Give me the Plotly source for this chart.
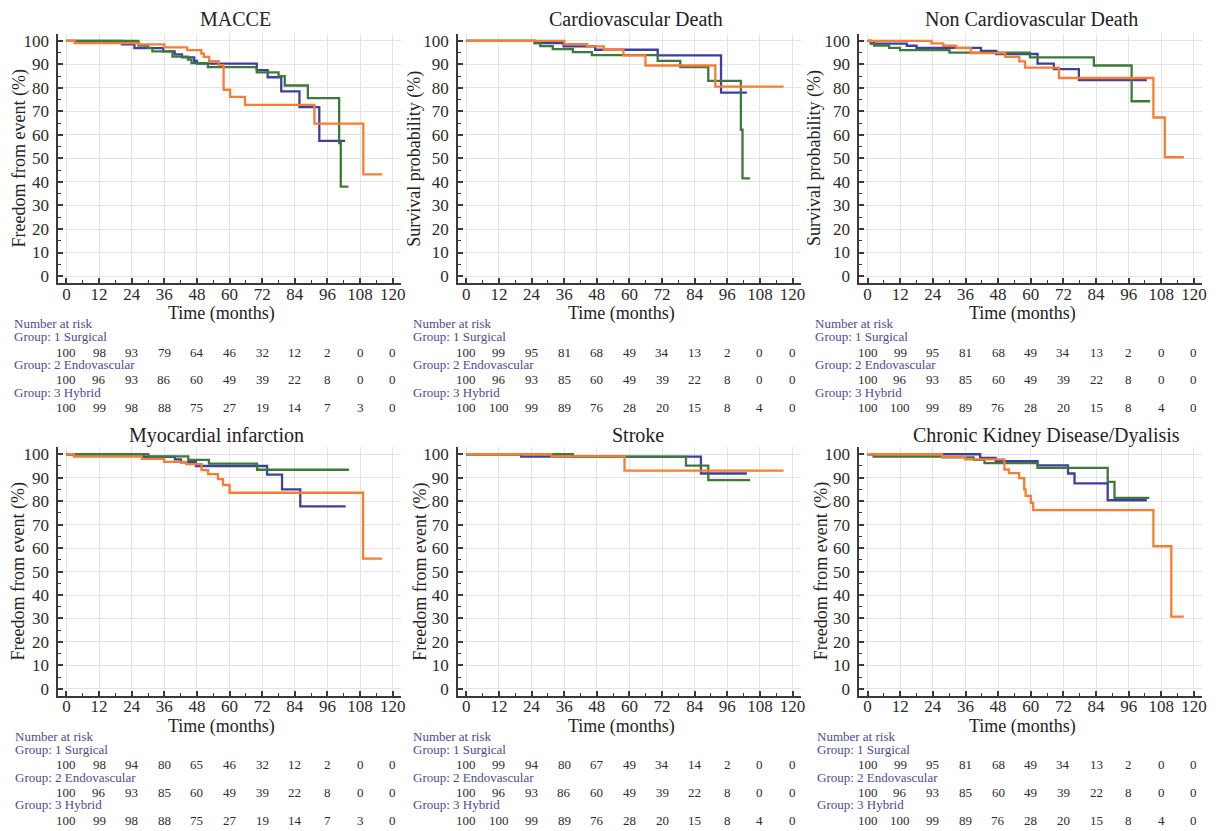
import plotly.graph_objects as go

W, H = 1217, 831
OFF = 8  # page body margin of the html page
FONT = "Liberation Serif"

# ---------------- DATA ----------------
titles = ["MACCE", "Cardiovascular Death", "Non Cardiovascular Death",
          "Myocardial infarction", "Stroke", "Chronic Kidney Disease/Dyalisis"]
ytitles = ["Freedom from event (%)", "Survival probability (%)", "Survival probability (%)",
           "Freedom from event (%)", "Freedom from event (%)", "Freedom from event (%)"]
group_names = ["1 Surgical", "2 Endovascular", "3 Hybrid"]
x_ticks = [0, 12, 24, 36, 48, 60, 72, 84, 96, 108, 120]
y_ticks = [0, 10, 20, 30, 40, 50, 60, 70, 80, 90, 100]

# MACCE
macce_surg_t = [0, 20.4, 25, 35.6, 39.8, 42.5, 47, 48, 70, 74, 79, 85.7, 93, 102.5]
macce_surg_s = [100, 98.5, 96.9, 95.5, 94.2, 93, 91.5, 90.3, 87.5, 84.5, 78.5, 71.8, 57.5, 57.5]
macce_endo_t = [0, 3, 26.7, 36, 44.4, 49.6, 50.5, 52.5, 56, 57.8, 60.2, 65.7, 91.2, 109.2, 116.1]
macce_endo_s = [100, 99, 98.5, 97.2, 96, 94.6, 93.2, 91.4, 89.7, 79.2, 76.2, 72.8, 64.8, 43.2, 43.2]
macce_hyb_t = [0, 26.5, 30, 31.6, 39, 44.7, 46, 52, 70, 78, 80.3, 88.8, 100.3, 100.9, 103.7]
macce_hyb_s = [100, 98, 97, 95.5, 93.3, 92, 90.5, 88.8, 86.6, 85, 81, 75.6, 56.5, 38, 38]

# Cardiovascular death
cvd_surg_t = [0, 25.1, 35.8, 47.4, 70.4, 93.7, 103.2]
cvd_surg_s = [100, 99, 97.6, 96.2, 93.8, 78, 78]
cvd_endo_t = [0, 36.1, 44.4, 50.6, 57.8, 65.9, 91.6, 116.7]
cvd_endo_s = [100, 98.6, 97.6, 96.2, 93.8, 89.5, 80.5, 80.5]
cvd_hyb_t = [0, 25.5, 27.2, 31.8, 39.2, 46.2, 70.4, 78.7, 89, 101, 101.6, 104.4]
cvd_hyb_s = [100, 99, 97.7, 96.5, 95.2, 93.9, 91.5, 88.8, 83, 62.2, 41.5, 41.5]

# Non cardiovascular death
ncvd_surg_t = [0, 1.2, 14.4, 18, 41.7, 47.3, 62.5, 68.5, 77.7, 102.7]
ncvd_surg_s = [100, 98.8, 97.9, 97, 95.7, 94.4, 90.3, 88, 83.3, 83.3]
ncvd_endo_t = [0, 23.5, 27.8, 32.6, 38, 50.6, 55.8, 57.9, 70.4, 105.1, 109.3, 116.3]
ncvd_endo_s = [100, 98.9, 97.9, 96.9, 94.8, 93.2, 91.3, 88.6, 84.2, 67.4, 50.5, 50.5]
ncvd_hyb_t = [0, 1.1, 2.4, 7.9, 11.9, 30.1, 59.7, 83.2, 97.1, 103.9]
ncvd_hyb_s = [100, 99.3, 98, 97, 96, 95, 93, 89.5, 74.3, 74.3]

# Myocardial infarction
mi_surg_t = [0, 28.5, 39.9, 42.1, 47.6, 73.8, 79.3, 86, 102.7]
mi_surg_s = [100, 98.9, 97.8, 96.6, 95, 91.3, 85, 77.8, 77.8]
mi_endo_t = [0, 2.7, 27.7, 35.9, 44.1, 49.7, 52.1, 55.7, 57.6, 60, 109.1, 116.1]
mi_endo_s = [100, 99, 98, 96.8, 95.8, 93.2, 91.5, 89.4, 86.9, 83.6, 55.5, 55.5]
mi_hyb_t = [0, 30.1, 44.8, 52.4, 70.1, 103.9]
mi_hyb_s = [100, 99.1, 97.6, 96, 93.4, 93.4]

# Stroke
stroke_surg_t = [0, 20.2, 86.3, 103.2]
stroke_surg_s = [100, 99, 91.8, 91.8]
stroke_endo_t = [0, 31.2, 58.2, 116.7]
stroke_endo_s = [100, 99.1, 93, 93]
stroke_hyb_t = [0, 39.2, 80.8, 89, 104.4]
stroke_hyb_s = [100, 98.9, 95.2, 89, 89]

# Chronic kidney disease / dialysis
ckd_surg_t = [0, 41.4, 47.1, 62.5, 73.7, 76.1, 88.3, 102.7]
ckd_surg_s = [100, 98.4, 97.1, 95.3, 91.8, 87.6, 80.4, 80.4]
ckd_endo_t = [0, 27.4, 35.9, 50.3, 52, 55.7, 57.6, 58.1, 60, 60.9, 105.1, 111.7, 116.3]
ckd_endo_s = [100, 98.9, 97.8, 93.5, 92, 89.8, 85, 82.3, 79.3, 76.2, 60.8, 30.8, 30.8]
ckd_hyb_t = [0, 2.2, 27.4, 39, 43, 62.5, 88.3, 90.8, 103.6]
ckd_hyb_s = [100, 99, 98.7, 97.6, 96.2, 94.2, 88.2, 81.4, 81.4]

# Number at risk tables
macce_risk_surg = [100, 98, 93, 79, 64, 46, 32, 12, 2, 0, 0]
macce_risk_endo = [100, 96, 93, 86, 60, 49, 39, 22, 8, 0, 0]
macce_risk_hyb = [100, 99, 98, 88, 75, 27, 19, 14, 7, 3, 0]
cvd_risk_surg = [100, 99, 95, 81, 68, 49, 34, 13, 2, 0, 0]
cvd_risk_endo = [100, 96, 93, 85, 60, 49, 39, 22, 8, 0, 0]
cvd_risk_hyb = [100, 100, 99, 89, 76, 28, 20, 15, 8, 4, 0]
ncvd_risk_surg = [100, 99, 95, 81, 68, 49, 34, 13, 2, 0, 0]
ncvd_risk_endo = [100, 96, 93, 85, 60, 49, 39, 22, 8, 0, 0]
ncvd_risk_hyb = [100, 100, 99, 89, 76, 28, 20, 15, 8, 4, 0]
mi_risk_surg = [100, 98, 94, 80, 65, 46, 32, 12, 2, 0, 0]
mi_risk_endo = [100, 96, 93, 85, 60, 49, 39, 22, 8, 0, 0]
mi_risk_hyb = [100, 99, 98, 88, 75, 27, 19, 14, 7, 3, 0]
stroke_risk_surg = [100, 99, 94, 80, 67, 49, 34, 14, 2, 0, 0]
stroke_risk_endo = [100, 96, 93, 86, 60, 49, 39, 22, 8, 0, 0]
stroke_risk_hyb = [100, 100, 99, 89, 76, 28, 20, 15, 8, 4, 0]
ckd_risk_surg = [100, 99, 95, 81, 68, 49, 34, 13, 2, 0, 0]
ckd_risk_endo = [100, 96, 93, 85, 60, 49, 39, 22, 8, 0, 0]
ckd_risk_hyb = [100, 100, 99, 89, 76, 28, 20, 15, 8, 4, 0]

# ---------------- BUILD ----------------
curves = [
    [(macce_surg_t, macce_surg_s), (macce_endo_t, macce_endo_s), (macce_hyb_t, macce_hyb_s)],
    [(cvd_surg_t, cvd_surg_s), (cvd_endo_t, cvd_endo_s), (cvd_hyb_t, cvd_hyb_s)],
    [(ncvd_surg_t, ncvd_surg_s), (ncvd_endo_t, ncvd_endo_s), (ncvd_hyb_t, ncvd_hyb_s)],
    [(mi_surg_t, mi_surg_s), (mi_endo_t, mi_endo_s), (mi_hyb_t, mi_hyb_s)],
    [(stroke_surg_t, stroke_surg_s), (stroke_endo_t, stroke_endo_s), (stroke_hyb_t, stroke_hyb_s)],
    [(ckd_surg_t, ckd_surg_s), (ckd_endo_t, ckd_endo_s), (ckd_hyb_t, ckd_hyb_s)],
]
risks = [
    [macce_risk_surg, macce_risk_endo, macce_risk_hyb],
    [cvd_risk_surg, cvd_risk_endo, cvd_risk_hyb],
    [ncvd_risk_surg, ncvd_risk_endo, ncvd_risk_hyb],
    [mi_risk_surg, mi_risk_endo, mi_risk_hyb],
    [stroke_risk_surg, stroke_risk_endo, stroke_risk_hyb],
    [ckd_risk_surg, ckd_risk_endo, ckd_risk_hyb],
]
colors = ["#3f3f9f", "#f97c33", "#3c7a3a"]
draw_order = [0, 2, 1]
label_color = "#4a4a94"
text_color = "#2b2b2b"

# layout positions in screen pixels of the reference picture
col_left = [58.5, 460, 863]
col_w = 344
row_top = [31.9, 447.9]
row_bot = [282.8, 698.1]

title_pos = [(236, 17), (639, 17), (1036, 17), (217, 436), (641, 436), (1051, 436)]
xt_y = [313, 313, 313, 729, 729, 729]
yt_x = [19, 416, 818, 19, 422, 825]
lab_x = [12, 413, 816, 13, 413, 818]
risk_rows_top = [323.3, 336.7, 352.3, 365, 380, 392.7, 407.7]
risk_rows_bot = [739.3, 751.7, 767.3, 780, 795, 807.7, 823.3]

FW, FH = W - OFF, H - OFF

def px(x):
    return (x - OFF) / FW

def py(y):
    return 1 - (y - OFF) / FH

fig = go.Figure()
annotations = []
layout = {}

for i in range(6):
    r, c = divmod(i, 3)
    n = i + 1
    xa = "xaxis" if n == 1 else f"xaxis{n}"
    ya = "yaxis" if n == 1 else f"yaxis{n}"
    xr = "x" if n == 1 else f"x{n}"
    yr = "y" if n == 1 else f"y{n}"
    axis_common = dict(
        showline=True, linecolor="#3a3a3a", linewidth=2,
        showgrid=True, gridcolor="#e3e3e3", gridwidth=1,
        ticks="inside", ticklen=5, tickwidth=1.5, tickcolor="#3a3a3a",
        tickfont=dict(family=FONT, size=17, color=text_color),
        zeroline=False, mirror=False,
        minor=dict(ticks="inside", ticklen=3, tickcolor="#3a3a3a", tickwidth=1, showgrid=False),
    )
    layout[xa] = dict(axis_common, domain=[px(col_left[c]), px(col_left[c] + col_w)],
                      range=[-3, 123], tickvals=x_ticks, anchor=yr, ticklabelstandoff=-6,
                      minor=dict(axis_common["minor"], dtick=6, tick0=0))
    layout[ya] = dict(axis_common, domain=[py(row_bot[r]), py(row_top[r])],
                      range=[-3, 103], tickvals=y_ticks, anchor=xr, ticklabelstandoff=4,
                      minor=dict(axis_common["minor"], dtick=5, tick0=0))

    for g in draw_order:
        t, s = curves[i][g]
        fig.add_trace(go.Scatter(x=t, y=s, mode="lines", line=dict(color=colors[g], width=2.3, shape="hv"),
                                 xaxis=xr, yaxis=yr, showlegend=False, name=group_names[g]))

    tx, ty = title_pos[i]
    annotations.append(dict(text=titles[i], x=px(tx), y=py(ty), xref="paper", yref="paper",
                            showarrow=False, font=dict(family=FONT, size=20, color="#222"),
                            xanchor="center", yanchor="middle"))
    annotations.append(dict(text="Time (months)", x=px(col_left[c] + 3 * 2.73 + 60 * 2.73 - 8), y=py(xt_y[i]),
                            xref="paper", yref="paper", showarrow=False,
                            font=dict(family=FONT, size=18, color="#222"), xanchor="center", yanchor="middle"))
    annotations.append(dict(text=ytitles[i], x=px(yt_x[i]), y=py((row_top[r] + row_bot[r]) / 2),
                            xref="paper", yref="paper", showarrow=False, textangle=-90,
                            font=dict(family=FONT, size=18, color="#222"), xanchor="center", yanchor="middle"))

    rows = risk_rows_top if r == 0 else risk_rows_bot
    annotations.append(dict(text="Number at risk", x=px(lab_x[i]), y=py(rows[0]), xref="paper", yref="paper",
                            showarrow=False, font=dict(family=FONT, size=13, color=label_color),
                            xanchor="left", yanchor="middle"))
    for g in range(3):
        annotations.append(dict(text="Group: " + group_names[g], x=px(lab_x[i]), y=py(rows[1 + 2 * g]),
                                xref="paper", yref="paper", showarrow=False,
                                font=dict(family=FONT, size=13, color=label_color),
                                xanchor="left", yanchor="middle"))
        for tv, val in zip(x_ticks, risks[i][g]):
            annotations.append(dict(text=str(val), x=tv, y=py(rows[2 + 2 * g]), xref=xr, yref="paper",
                                    showarrow=False, font=dict(family=FONT, size=13, color=text_color),
                                    xanchor="center", yanchor="middle"))

fig.update_layout(
    width=FW, height=FH, margin=dict(l=0, r=0, t=0, b=0),
    paper_bgcolor="white", plot_bgcolor="white",
    annotations=annotations, showlegend=False,
    **layout,
)
fig.write_html("out.html")
